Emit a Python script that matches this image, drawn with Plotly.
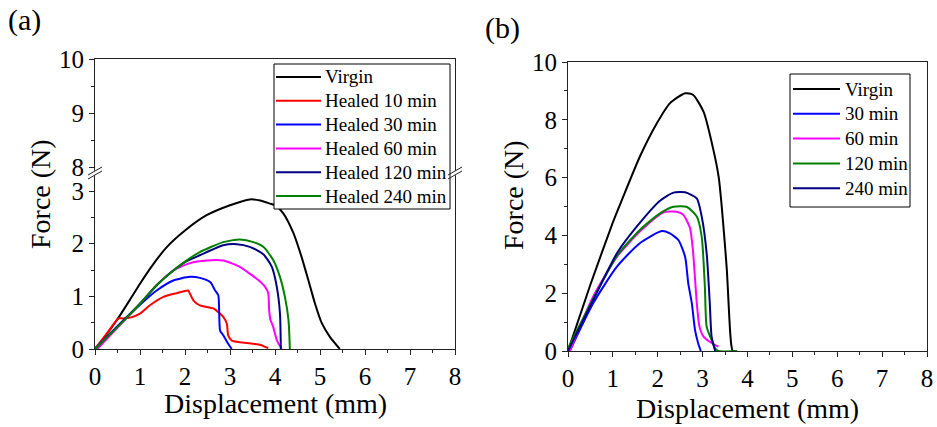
import plotly.graph_objects as go

# ---------------- data: panel (a) ----------------
a_virgin_x = [0, 0.26, 0.48, 0.78, 1.0, 1.26, 1.59, 2.0, 2.48, 3.0, 3.44, 3.67, 3.89, 4.0, 4.18, 4.41, 4.59, 4.74, 4.89, 5.04, 5.22, 5.44]
a_virgin_y = [0, 0.28, 0.54, 0.94, 1.24, 1.57, 1.93, 2.25, 2.54, 2.73, 2.84, 2.82, 2.76, 2.73, 2.58, 2.2, 1.75, 1.31, 0.86, 0.49, 0.23, 0]
a_h10_x = [0, 0.26, 0.52, 0.63, 0.8, 1.0, 1.22, 1.52, 1.81, 2.07, 2.11, 2.19, 2.33, 2.63, 2.74, 2.85, 2.93, 2.96, 3.04, 3.22, 3.52, 3.7, 3.78, 3.85]
a_h10_y = [0, 0.29, 0.58, 0.58, 0.6, 0.67, 0.83, 0.99, 1.06, 1.11, 1.05, 0.92, 0.83, 0.77, 0.7, 0.61, 0.48, 0.26, 0.16, 0.13, 0.1, 0.07, 0.04, 0.02]
a_h30_x = [0, 0.63, 1.0, 1.37, 1.74, 2.11, 2.33, 2.56, 2.67, 2.74, 2.78, 2.85, 2.96, 3.04]
a_h30_y = [0, 0.54, 0.84, 1.11, 1.3, 1.37, 1.35, 1.27, 1.11, 1.02, 0.35, 0.26, 0.1, 0]
a_h60_x = [0.05, 0.63, 1.0, 1.37, 1.74, 2.11, 2.48, 2.85, 3.22, 3.44, 3.63, 3.78, 3.85, 3.87, 3.9, 3.96, 4.04, 4.15]
a_h60_y = [0, 0.52, 0.86, 1.21, 1.49, 1.63, 1.68, 1.68, 1.56, 1.43, 1.31, 1.18, 1.06, 0.74, 0.55, 0.42, 0.17, 0]
a_h120_x = [0, 0.63, 1.0, 1.37, 1.74, 2.0, 2.33, 2.85, 3.15, 3.44, 3.74, 3.93, 4.04, 4.11, 4.13]
a_h120_y = [0, 0.54, 0.86, 1.21, 1.49, 1.65, 1.78, 1.97, 1.99, 1.94, 1.8, 1.56, 1.18, 0.68, 0]
a_h240_x = [0, 0.63, 1.0, 1.37, 1.74, 2.0, 2.33, 2.85, 3.22, 3.52, 3.74, 3.96, 4.11, 4.22, 4.3, 4.33]
a_h240_y = [0, 0.53, 0.86, 1.21, 1.49, 1.66, 1.84, 2.03, 2.08, 2.03, 1.94, 1.69, 1.37, 0.99, 0.55, 0]

# ---------------- data: panel (b) ----------------
b_virgin_x = [0, 0.5, 1.0, 1.2, 1.6, 1.98, 2.27, 2.61, 2.79, 3.02, 3.24, 3.36, 3.42, 3.48, 3.54, 3.58, 3.61, 3.64, 3.67, 3.72]
b_virgin_y = [0, 2.3, 4.45, 5.22, 6.72, 7.88, 8.57, 8.92, 8.86, 8.28, 6.96, 6.0, 5.1, 4.0, 2.8, 1.6, 0.73, 0.2, 0, 0]
b_30_x = [0.04, 0.56, 1.09, 1.6, 2.09, 2.27, 2.46, 2.61, 2.68, 2.76, 2.83, 2.9, 2.96]
b_30_y = [0, 1.65, 2.92, 3.73, 4.15, 4.07, 3.84, 3.26, 2.34, 1.65, 0.73, 0.27, 0]
b_60_x = [0.04, 0.56, 1.09, 1.6, 2.12, 2.42, 2.57, 2.72, 2.79, 2.87, 2.93, 3.02, 3.16, 3.35]
b_60_y = [0, 1.88, 3.26, 4.13, 4.79, 4.82, 4.71, 4.25, 3.38, 1.65, 0.84, 0.5, 0.32, 0.15]
b_120_x = [0, 0.56, 1.09, 1.6, 2.05, 2.35, 2.64, 2.87, 2.98, 3.05, 3.09, 3.2, 3.28, 3.35, 3.77]
b_120_y = [0.1, 1.8, 3.29, 4.19, 4.76, 4.99, 4.99, 4.65, 3.95, 2.22, 0.84, 0.38, 0.09, 0, 0]
b_240_x = [0, 0.56, 1.09, 1.53, 2.05, 2.35, 2.61, 2.87, 2.98, 3.09, 3.16, 3.2, 3.28]
b_240_y = [0, 1.76, 3.38, 4.3, 5.2, 5.48, 5.49, 5.28, 4.65, 3.38, 1.65, 0.5, 0]

a_names = ["Virgin", "Healed 10 min", "Healed 30 min", "Healed 60 min", "Healed 120 min", "Healed 240 min"]
b_names = ["Virgin", "30 min", "60 min", "120 min", "240 min"]
a_colors = ["#000000", "#FF0000", "#0000FF", "#FF00FF", "#000080", "#008000"]
b_colors = ["#000000", "#0000FF", "#FF00FF", "#008000", "#000080"]

x_ticks = [0, 1, 2, 3, 4, 5, 6, 7, 8]
a_low_ticks = [0, 1, 2, 3]
a_high_ticks = [8, 9, 10]
b_y_ticks = [0, 2, 4, 6, 8, 10]

FONT = "Liberation Serif"
W, H = 937, 427


def px(x):
    return x / W


def py(y):
    return 1 - y / H


fig = go.Figure()

a_series = [(a_virgin_x, a_virgin_y), (a_h10_x, a_h10_y), (a_h30_x, a_h30_y),
            (a_h60_x, a_h60_y), (a_h120_x, a_h120_y), (a_h240_x, a_h240_y)]
for (xs, ys), name, col in zip(a_series, a_names, a_colors):
    fig.add_trace(go.Scatter(x=xs, y=ys, mode="lines", name=name, showlegend=False,
                             line=dict(color=col, width=2, shape="spline", smoothing=0.6),
                             xaxis="x", yaxis="y"))

b_series = [(b_virgin_x, b_virgin_y), (b_30_x, b_30_y), (b_60_x, b_60_y),
            (b_120_x, b_120_y), (b_240_x, b_240_y)]
for (xs, ys), name, col in zip(b_series, b_names, b_colors):
    fig.add_trace(go.Scatter(x=xs, y=ys, mode="lines", name=name, showlegend=False,
                             line=dict(color=col, width=2, shape="spline", smoothing=0.6),
                             xaxis="x2", yaxis="y2"))

# empty trace for upper broken segment of panel (a)
fig.add_trace(go.Scatter(x=[], y=[], mode="lines", showlegend=False, xaxis="x3", yaxis="y3"))

tickfont = dict(family=FONT, size=25, color="black")
axline = dict(showline=True, linecolor="#222", linewidth=1, showgrid=False, zeroline=False,
              automargin=False)

# panel geometry (pixels)
aL, aR = 95, 455
a_bot, a_brk, a_top = 349, 173, 59
bL, bR = 568, 927
b_bot, b_top = 351, 62

low_range = [0, (a_bot - a_brk) / ((a_bot - 191) / 3.0)]
high_range = [10 - (a_brk - a_top) / ((167 - a_top) / 2.0), 10]

minor_half = dict(ticks="outside", ticklen=3, dtick=0.5, tick0=0, tickcolor="#222")

fig.update_layout(
    width=W, height=H,
    margin=dict(l=0, r=0, t=0, b=0),
    paper_bgcolor="white", plot_bgcolor="white",
    font=dict(family=FONT, color="black"),
    showlegend=False,
    xaxis=dict(domain=[px(aL), px(aR)], anchor="y", range=[0, 8], tickvals=x_ticks,
               ticks="outside", ticklen=5, tickcolor="#222", tickfont=tickfont,
               minor=minor_half, **axline),
    yaxis=dict(domain=[py(a_bot), py(a_brk)], anchor="x", range=low_range, tickvals=a_low_ticks,
               ticks="outside", ticklen=5, tickcolor="#222", tickfont=tickfont, mirror=True,
               minor=minor_half, **axline),
    xaxis3=dict(domain=[px(aL), px(aR)], anchor="y3", range=[0, 8], side="top",
                showticklabels=False, ticks="", **axline),
    yaxis3=dict(domain=[py(a_brk), py(a_top)], anchor="x3", range=high_range, tickvals=a_high_ticks,
                ticks="outside", ticklen=5, tickcolor="#222", tickfont=tickfont, mirror=True,
                minor=minor_half, **axline),
    xaxis2=dict(domain=[px(bL), px(bR)], anchor="y2", range=[0, 8], tickvals=x_ticks,
                ticks="outside", ticklen=5, tickcolor="#222", tickfont=tickfont, mirror=True,
                minor=minor_half, **axline),
    yaxis2=dict(domain=[py(b_bot), py(b_top)], anchor="x2", range=[0, 10], tickvals=b_y_ticks,
                ticks="outside", ticklen=5, tickcolor="#222", tickfont=tickfont, mirror=True,
                minor=dict(ticks="outside", ticklen=3, dtick=1, tick0=0, tickcolor="#222"),
                **axline),
)

annos = [
    dict(text="(a)", x=px(24), y=py(20), size=30),
    dict(text="(b)", x=px(503), y=py(28), size=30),
    dict(text="Force (N)", x=px(40), y=py(194), textangle=-90, size=28),
    dict(text="Force (N)", x=px(513), y=py(195), textangle=-90, size=28),
    dict(text="Displacement (mm)", x=px(275), y=py(403), size=28),
    dict(text="Displacement (mm)", x=px(747), y=py(408), size=28),
]
for a in annos:
    size = a.pop("size")
    fig.add_annotation(xref="paper", yref="paper", showarrow=False,
                       xanchor="center", yanchor="middle",
                       font=dict(family=FONT, size=size, color="black"), **a)


# custom legends (box, line samples, labels)
def add_legend(names, colors, box, line_x, text_x, row0, row_gap):
    x0, y0, x1, y1 = box
    fig.add_shape(type="rect", xref="paper", yref="paper",
                  x0=px(x0), y0=py(y1), x1=px(x1), y1=py(y0),
                  line=dict(color="black", width=1), fillcolor="white", layer="above")
    for i, (nm, col) in enumerate(zip(names, colors)):
        yy = row0 + i * row_gap
        fig.add_shape(type="line", xref="paper", yref="paper",
                      x0=px(line_x[0]), y0=py(yy), x1=px(line_x[1]), y1=py(yy),
                      line=dict(color=col, width=2), layer="above")
        fig.add_annotation(xref="paper", yref="paper", showarrow=False,
                           x=px(text_x), y=py(yy), xanchor="left", yanchor="middle",
                           text=nm, font=dict(family=FONT, size=19, color="black"))


add_legend(a_names, a_colors, (274, 64, 450, 209), (276, 321), 323, 77, 23.8)
add_legend(b_names, b_colors, (790, 74, 910, 207), (793, 840), 843, 89, 24.8)

# axis-break marks (double slashes) on panel (a)
for cx in (aL, aR):
    fig.add_shape(type="line", xref="paper", yref="paper",
                  x0=px(cx - 1), y0=py(a_brk - 2), x1=px(cx + 1), y1=py(a_brk + 2),
                  line=dict(color="white", width=3))
    for dy in (-2, 2):
        fig.add_shape(type="line", xref="paper", yref="paper",
                      x0=px(cx - 7), y0=py(a_brk + dy + 4), x1=px(cx + 7), y1=py(a_brk + dy - 4),
                      line=dict(color="#222", width=1))

fig.write_html("out.html")
